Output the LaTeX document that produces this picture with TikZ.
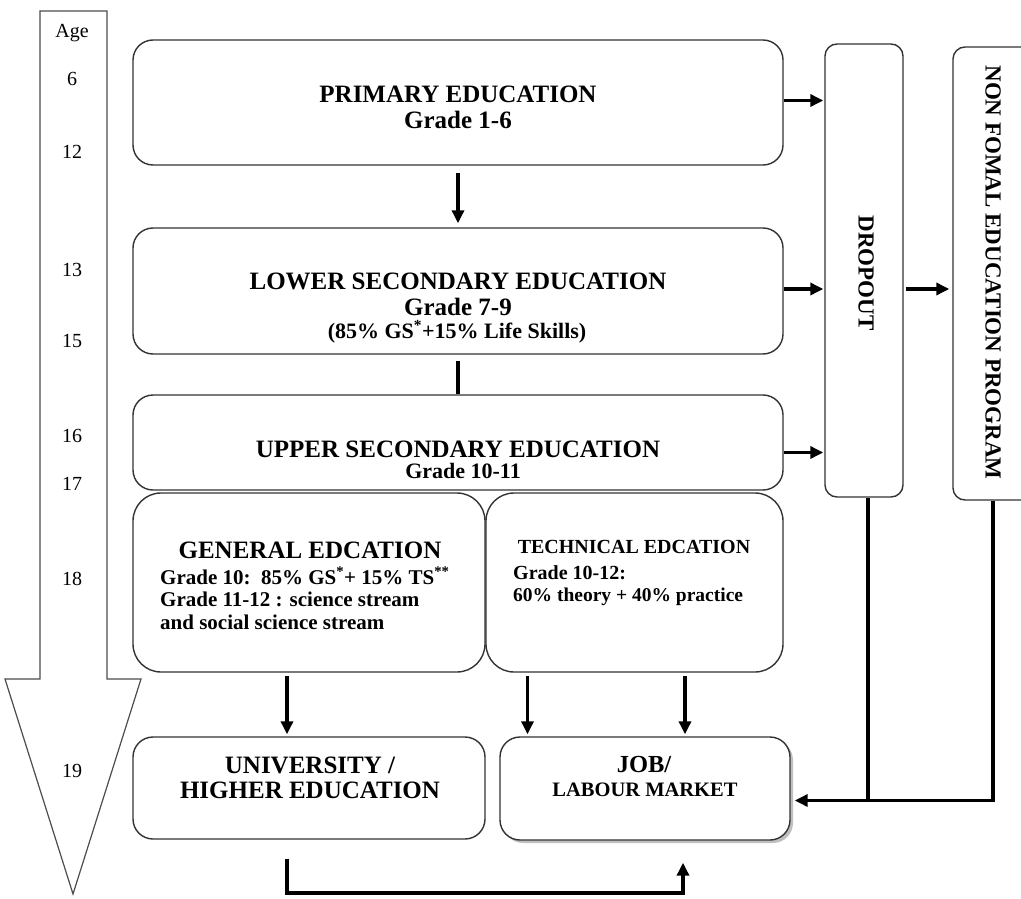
\documentclass[tikz,border=0pt]{standalone}
\usepackage{fontspec}
\setmainfont{Liberation Serif}
\usetikzlibrary{arrows.meta,shadows}

\begin{document}
\begin{tikzpicture}[x=1pt,y=-1pt,
    box/.style={draw=black!80, line width=1.4pt, rounded corners=20pt, fill=white},
    flow/.style={line width=3.5pt, -{Triangle[length=13pt,width=12pt]}},
    plain/.style={line width=3.5pt},
    agenum/.style={font=\fontsize{20}{24}\selectfont}]
  \useasboundingbox (0,0) rectangle (1021,899);
  \clip (0,0) rectangle (1021,899);
  % age arrow
  \draw[draw=black!70, line width=1.2pt, fill=white] (40,11) -- (107,11) -- (107,679) -- (141,679)
      -- (73,894) -- (5,679) -- (40,679) -- cycle;
  \node[agenum] (age) at (72,33) {Age};
  \foreach \a/\y in {6/79,12/152,13/270,15/341,16/436,17/484,18/579,19/771}
    \node[agenum] (age\a) at (72,\y) {\a};
  % boxes
  \node[box, minimum width=650pt, minimum height=125pt] (primary) at (458,102.5) {};
  \node[box, minimum width=650pt, minimum height=126pt] (lower) at (458,291) {};
  \node[box, minimum width=650pt, minimum height=95pt] (upper) at (458,442.5) {};
  \node[box, rounded corners=28pt, minimum width=352pt, minimum height=179pt] (general) at (309,582.5) {};
  \node[box, rounded corners=28pt, minimum width=297pt, minimum height=179pt] (technical) at (634.5,582.5) {};
  \node[box, minimum width=352pt, minimum height=102pt] (university) at (309,788) {};
  \node[box, drop shadow={shadow xshift=3pt, shadow yshift=-3pt, fill=black!50},
      minimum width=290pt, minimum height=103pt] (job) at (645,788.5) {};
  \node[box, rounded corners=12pt, minimum width=78pt, minimum height=453pt] (dropout) at (864,270.5) {};
  \node[box, rounded corners=12pt, minimum width=82pt, minimum height=453pt] (nonformal) at (994,273.5) {};
  % texts
  \node[align=center, font=\bfseries\fontsize{25}{26}\selectfont] (primtxt) at (458,107)
      {PRIMARY EDUCATION\\Grade 1-6};
  \node[align=center, font=\bfseries\fontsize{25}{26}\selectfont] (lowtxt) at (458,294)
      {LOWER SECONDARY EDUCATION\\Grade 7-9};
  \node[font=\bfseries\fontsize{22}{24}\selectfont] (lowmix) at (457,332)
      {(85\% GS\textsuperscript{*}+15\% Life Skills)};
  \node[font=\bfseries\fontsize{25}{26}\selectfont] (uptitle) at (458,449) {UPPER SECONDARY EDUCATION};
  \node[font=\bfseries\fontsize{22}{24}\selectfont] (upgrade) at (463,471) {Grade 10-11};
  \node[font=\bfseries\fontsize{25}{26}\selectfont] (gentitle) at (310,550) {GENERAL EDCATION};
  \node[anchor=north west, inner sep=0pt, align=left, font=\bfseries\fontsize{21}{22.5}\selectfont] (genbody) at (160,567)
      {Grade 10:\ \ 85\% GS\textsuperscript{*}+ 15\% TS\textsuperscript{**}\\Grade 11-12 : science stream\\and social science stream};
  \node[font=\bfseries\fontsize{20}{22}\selectfont] (techtitle) at (634,547) {TECHNICAL EDCATION};
  \node[anchor=north west, inner sep=0pt, align=left, font=\bfseries\fontsize{20}{22}\selectfont] (techbody) at (513,565)
      {Grade 10-12:\\{\fontsize{19.5}{20}\selectfont 60\% theory + 40\% practice}};
  \node[align=center, font=\bfseries\fontsize{25}{25}\selectfont] (unitxt) at (310,778)
      {UNIVERSITY /\\HIGHER EDUCATION};
  \node[font=\bfseries\fontsize{24.5}{26}\selectfont] (jobtxt) at (644,765) {JOB/};
  \node[font=\bfseries\fontsize{20.5}{22}\selectfont] (labtxt) at (645,790) {LABOUR MARKET};
  \node[rotate=-90, font=\bfseries\fontsize{23}{24}\selectfont] (droptxt) at (866,273) {DROPOUT};
  \node[rotate=-90, font=\bfseries\fontsize{23}{24}\selectfont] (nftxt) at (993,272.5) {NON FOMAL EDUCATION PROGRAM};
  % connectors
  \draw[flow, shorten <=7pt, shorten >=4pt] (primary.south) -- (lower.north);
  \draw[plain, shorten <=6pt] (lower.south) -- (upper.north);
  \draw[flow, shorten >=1pt] ([yshift=2pt]primary.east) -- ([yshift=2pt]primary.east -| dropout.west);
  \draw[flow, shorten >=1pt] ([yshift=2pt]lower.east) -- ([yshift=2pt]lower.east -| dropout.west);
  \draw[flow, shorten >=1pt] ([yshift=-10pt]upper.east) -- ([yshift=-10pt]upper.east -| dropout.west);
  \draw[flow, shorten <=2pt, shorten >=3pt] ([yshift=2pt]lower.east -| dropout.east) -- ([yshift=2pt]lower.east -| nonformal.west);
  \draw[flow, shorten <=3pt, shorten >=2pt] ([xshift=-22pt]general.south) -- ([xshift=-22pt]general.south |- university.north);
  \draw[flow, shorten <=3pt, shorten >=2pt] ([xshift=-107pt]technical.south) -- ([xshift=-107pt]technical.south |- job.north);
  \draw[flow, shorten <=3pt, shorten >=2pt] ([xshift=50.5pt]technical.south) -- ([xshift=50.5pt]technical.south |- job.north);
  \coordinate (junction) at ([yshift=-12pt]job.east -| 868,0);
  \draw[flow, shorten >=4pt] (nonformal.south -| 993,0) |- ([yshift=-12pt]job.east);
  \draw[plain] (dropout.south -| 868,0) -- (junction);
  \coordinate (lowrun) at (400,893);
  \draw[flow, shorten <=19pt, shorten >=22pt] ([xshift=-22pt]university.south) |- (lowrun) -| ([xshift=38pt]job.south);
\end{tikzpicture}
\end{document}
